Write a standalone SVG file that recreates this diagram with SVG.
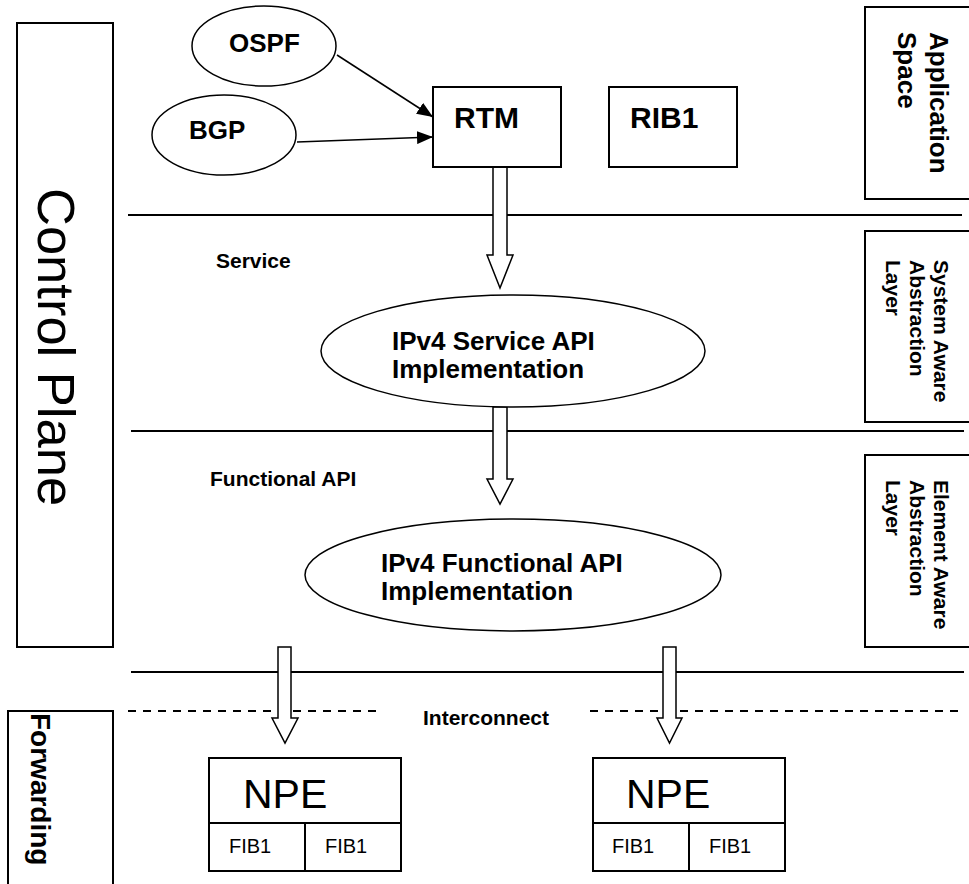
<svg xmlns="http://www.w3.org/2000/svg" width="969" height="884" viewBox="0 0 969 884">
<style>
  .box { fill: #fff; stroke: #000; stroke-width: 2; }
  .ell { fill: #fff; stroke: #000; stroke-width: 1.5; }
  .sep { stroke: #000; stroke-width: 2; fill: none; }
  .dash { stroke: #000; stroke-width: 2; fill: none; stroke-dasharray: 8 7; }
  .hollow { fill: #fff; stroke: #000; stroke-width: 1.5; }
  .conn { stroke: #000; stroke-width: 1.5; fill: none; }
  text { font-family: "Liberation Sans", Arial, sans-serif; fill: #000; }
  .b { font-weight: bold; }
</style>
<defs>
  <marker id="ah" markerUnits="userSpaceOnUse" markerWidth="17" markerHeight="13" refX="16" refY="6.5" orient="auto">
    <path d="M0,0 L16,6.5 L0,13 Z" fill="#000"/>
  </marker>
</defs>

<g id="layer-lines">
  <line class="sep" x1="128" y1="215" x2="962" y2="215"/>
  <line class="sep" x1="131" y1="431" x2="964" y2="431"/>
  <line class="sep" x1="131" y1="672" x2="964" y2="672"/>
  <line class="dash" x1="128" y1="711" x2="383" y2="711"/>
  <line class="dash" x1="590" y1="711" x2="963" y2="711"/>
</g>

<g id="labels">
  <text class="b" x="216" y="268" font-size="21">Service</text>
  <text class="b" x="210" y="486" font-size="21">Functional API</text>
  <text class="b" x="423" y="725" font-size="21">Interconnect</text>
</g>

<g id="connectors">
  <line class="conn" x1="337" y1="55" x2="433" y2="117" marker-end="url(#ah)"/>
  <line class="conn" x1="297" y1="142" x2="433" y2="137" marker-end="url(#ah)"/>
  <path class="hollow" d="M493,167 L493,255 L487,255 L500,288 L513,255 L507,255 L507,167 Z"/>
  <path class="hollow" d="M493,407 L493,479 L487,479 L500,504 L513,479 L507,479 L507,407 Z"/>
  <path class="hollow" d="M278,647 L278,718 L272,718 L285,743 L298,718 L291,718 L291,647 Z"/>
  <path class="hollow" d="M663,647 L663,718 L657,718 L669.5,743 L682,718 L676,718 L676,647 Z"/>
</g>

<g id="control-plane">
  <rect class="box" x="17" y="23" width="96" height="624"/>
  <text x="38" y="188" font-size="52.5" transform="rotate(90 38 188)">Control Plane</text>
</g>

<g id="forwarding">
  <rect class="box" x="8" y="711" width="105" height="200"/>
  <text class="b" x="31" y="713" font-size="28" transform="rotate(90 31 713)">Forwarding</text>
</g>

<g id="application-space">
  <rect class="box" x="865" y="7" width="120" height="192"/>
  <text class="b" font-size="26" transform="rotate(90 930 32)" x="930" y="32">Application</text>
  <text class="b" font-size="26" transform="rotate(90 898 32)" x="898" y="32">Space</text>
</g>

<g id="system-aware">
  <rect class="box" x="865" y="231" width="120" height="191"/>
  <text class="b" font-size="21" transform="rotate(90 934 260)" x="934" y="260">System Aware</text>
  <text class="b" font-size="21" transform="rotate(90 910 260)" x="910" y="260">Abstraction</text>
  <text class="b" font-size="21" transform="rotate(90 886 260)" x="886" y="260">Layer</text>
</g>

<g id="element-aware">
  <rect class="box" x="865" y="455" width="120" height="192"/>
  <text class="b" font-size="21" transform="rotate(90 934 480)" x="934" y="480">Element Aware</text>
  <text class="b" font-size="21" transform="rotate(90 910 480)" x="910" y="480">Abstraction</text>
  <text class="b" font-size="21" transform="rotate(90 886 480)" x="886" y="480">Layer</text>
</g>

<g id="ospf">
  <ellipse class="ell" cx="264" cy="46" rx="72" ry="40"/>
  <text class="b" x="229" y="52" font-size="26">OSPF</text>
</g>

<g id="bgp">
  <ellipse class="ell" cx="224" cy="135" rx="72" ry="40"/>
  <text class="b" x="189" y="139" font-size="26">BGP</text>
</g>

<g id="rtm">
  <rect class="box" x="433" y="87" width="128" height="80"/>
  <text class="b" x="454" y="128" font-size="30">RTM</text>
</g>

<g id="rib1">
  <rect class="box" x="609" y="87" width="128" height="80"/>
  <text class="b" x="630" y="128" font-size="30">RIB1</text>
</g>

<g id="ipv4-service">
  <ellipse class="ell" cx="513" cy="351" rx="192" ry="56"/>
  <text class="b" x="392" y="350" font-size="26">IPv4 Service API</text>
  <text class="b" x="392" y="378" font-size="26">Implementation</text>
</g>

<g id="ipv4-functional">
  <ellipse class="ell" cx="513" cy="575" rx="208" ry="56"/>
  <text class="b" x="381" y="572" font-size="26">IPv4 Functional API</text>
  <text class="b" x="381" y="600" font-size="26">Implementation</text>
</g>

<g id="npe1">
  <rect class="box" x="209" y="758" width="192" height="113"/>
  <line class="sep" x1="209" y1="823" x2="401" y2="823"/>
  <line class="sep" x1="305" y1="823" x2="305" y2="871"/>
  <text x="243" y="808" font-size="41">NPE</text>
  <text x="229" y="853" font-size="20">FIB1</text>
  <text x="325" y="853" font-size="20">FIB1</text>
</g>

<g id="npe2">
  <rect class="box" x="593" y="758" width="192" height="113"/>
  <line class="sep" x1="593" y1="823" x2="785" y2="823"/>
  <line class="sep" x1="689" y1="823" x2="689" y2="871"/>
  <text x="626" y="808" font-size="41">NPE</text>
  <text x="612" y="853" font-size="20">FIB1</text>
  <text x="709" y="853" font-size="20">FIB1</text>
</g>
</svg>
